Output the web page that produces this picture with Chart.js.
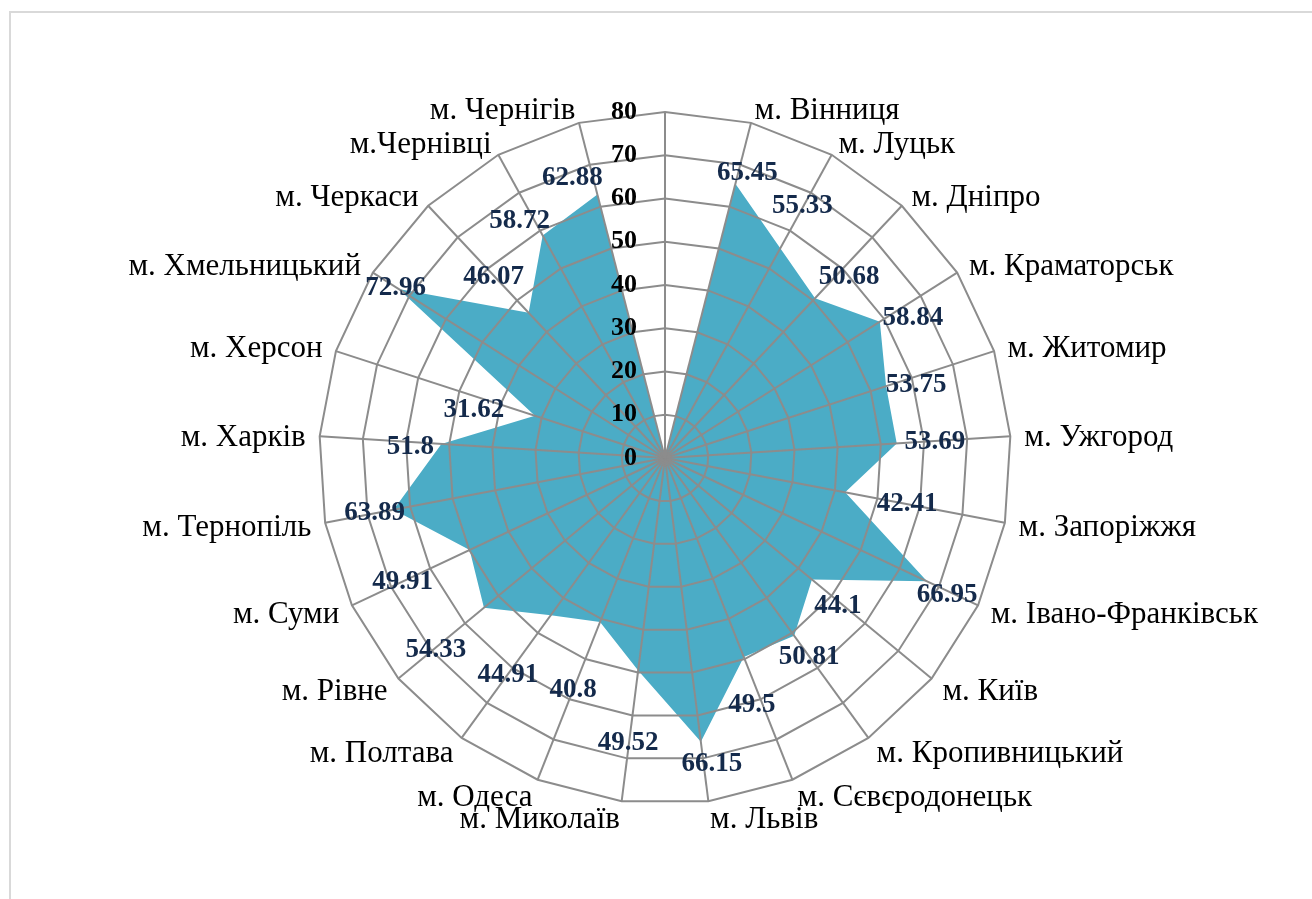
<!DOCTYPE html>
<html>
<head>
<meta charset="utf-8">
<script src="https://cdn.jsdelivr.net/npm/chart.js@4.4.1/dist/chart.umd.min.js"></script>
<style>
  html, body { margin: 0; padding: 0; background: #fff; overflow: hidden; }
  #wrap { position: relative; width: 1312px; height: 899px; }
  #frame {
    position: absolute; left: 9px; top: 11px; right: -20px; bottom: -20px;
    border-left: 2px solid #d9d9d9; border-top: 2px solid #d9d9d9;
  }
  canvas { position: absolute; left: 0; top: 0; }
</style>
</head>
<body>
<div id="wrap">
  <div id="frame"></div>
  <canvas id="radar" width="1312" height="899"></canvas>
</div>
<script>
  // first spoke is the empty one at the top of the chart
  const categories = [
    "", "м. Вінниця", "м. Луцьк", "м. Дніпро", "м. Краматорськ", "м. Житомир",
    "м. Ужгород", "м. Запоріжжя", "м. Івано-Франківськ", "м. Київ", "м. Кропивницький",
    "м. Сєвєродонецьк", "м. Львів", "м. Миколаїв", "м. Одеса", "м. Полтава", "м. Рівне",
    "м. Суми", "м. Тернопіль", "м. Харків", "м. Херсон", "м. Хмельницький",
    "м. Черкаси", "м.Чернівці", "м. Чернігів"
  ];
  const values = [
    0, 65.45, 55.33, 50.68, 58.84, 53.75, 53.69, 42.41, 66.95, 44.1, 50.81,
    49.5, 66.15, 49.52, 40.8, 44.91, 54.33, 49.91, 63.89, 51.8, 31.62, 72.96,
    46.07, 58.72, 62.88
  ];
  const tickValues = [0, 10, 20, 30, 40, 50, 60, 70, 80];

  // where each value label sits relative to its point (px)
  const labelDx = [0, 12, 22, 34, 33, 30, 38, 62, 20, 26, 15, 8, 11, -10, -27, -43, -48, -67, -19, -31, -61, -3, -35, -23, -25];
  const labelDy = [0, -11, -42, -21, -4, -1, -1, 12, 14, 26, 21, 48, 22, 73, 68, 60, 42, 32, 3, 3, -6, -1, -36, -14, -17];

  const serif = "'Liberation Serif', 'Times New Roman', serif";

  const radarText = {
    id: "radarText",
    afterDraw(chart) {
      const scale = chart.scales.r;
      const ctx = chart.ctx;
      ctx.save();
      ctx.textBaseline = "middle";

      // axis numbers, left of the vertical spoke
      ctx.font = "bold 26px " + serif;
      ctx.fillStyle = "#000000";
      ctx.textAlign = "right";
      tickValues.forEach((v) => {
        const d = scale.getDistanceFromCenterForValue(v);
        ctx.fillText(String(v), scale.xCenter - 28, scale.yCenter - d);
      });

      // city names
      ctx.font = "31px " + serif;
      categories.forEach((name, i) => {
        if (!name) return;
        const p = scale.getPointPosition(i, scale.drawingArea + 14);
        const dx = p.x - scale.xCenter;
        const down = Math.max(0, (p.y - scale.yCenter) / scale.drawingArea);
        ctx.textAlign = Math.abs(dx) < 1 ? "center" : (dx > 0 ? "left" : "right");
        ctx.fillText(name, p.x, p.y + 2 + 3 * down);
      });

      // values
      const meta = chart.getDatasetMeta(0);
      ctx.font = "bold 27px " + serif;
      ctx.fillStyle = "#142a4b";
      ctx.textAlign = "center";
      meta.data.forEach((pt, i) => {
        if (!categories[i]) return;
        ctx.fillText(String(values[i]), pt.x + labelDx[i], pt.y + labelDy[i]);
      });
      ctx.restore();
    }
  };

  new Chart(document.getElementById("radar"), {
    type: "radar",
    data: {
      labels: categories,
      datasets: [{
        data: values,
        fill: true,
        backgroundColor: "#4bacc6",
        borderWidth: 0,
        pointRadius: 0,
        tension: 0
      }]
    },
    options: {
      responsive: false,
      devicePixelRatio: 1,
      animation: false,
      layout: { padding: { left: 300, right: 282, top: 112, bottom: 95 } },
      plugins: {
        legend: { display: false },
        tooltip: { enabled: false }
      },
      scales: {
        r: {
          min: 0,
          max: 80,
          ticks: { display: false, stepSize: 10 },
          pointLabels: { display: false },
          grid: { color: "#8c8c8c", lineWidth: 2, z: 1 },
          angleLines: { color: "#8c8c8c", lineWidth: 2 }
        }
      }
    },
    plugins: [radarText]
  });
</script>
</body>
</html>
